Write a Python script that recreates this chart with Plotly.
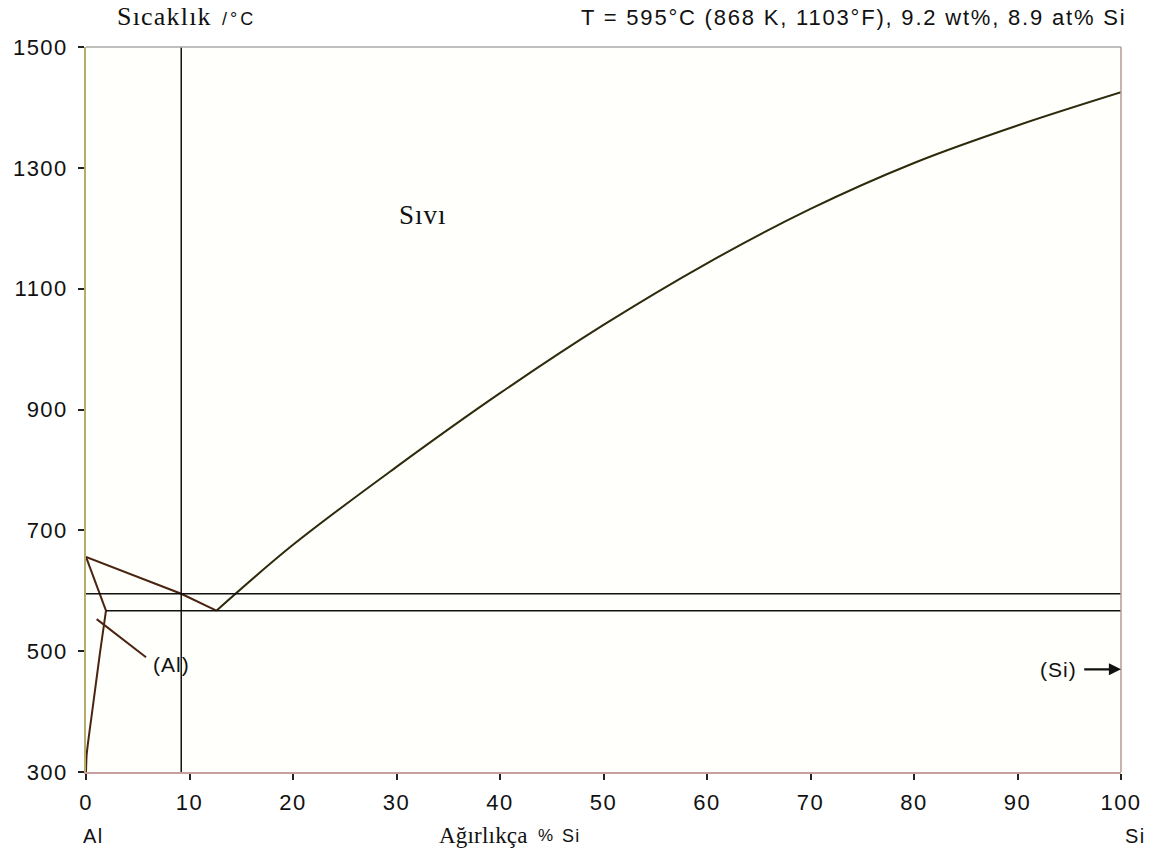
import plotly.graph_objects as go

# ---- data ----
liquidus_x = [12.6, 20, 30, 40, 50, 60, 70, 80, 90, 100]
liquidus_t = [567, 676, 805, 927, 1040, 1142, 1232, 1308, 1370, 1425]

al_liquidus_x = [0.0, 9.2, 12.6]
al_liquidus_t = [656, 595, 567]

solidus_x = [0.0, 1.93]
solidus_t = [656, 567]

solvus_x = [1.93, 1.35, 0.7, 0.07, 0.0]
solvus_t = [567, 497, 413, 330, 300]

leader_x = [1.03, 5.8]
leader_t = [553, 490]

eutectic_t = 567
eutectic_x = [1.93, 100]
cursor_t = 595
cursor_x = 9.2

x_ticks = [0, 10, 20, 30, 40, 50, 60, 70, 80, 90, 100]
y_ticks = [300, 500, 700, 900, 1100, 1300, 1500]

SANS = "Liberation Sans, Arial, sans-serif"
SERIF = "Liberation Serif, Times New Roman, serif"

# plot area in page pixels (reference)
PX0, PX1, PY0, PY1 = 86, 1121, 47, 772


def px(x):
    return (x - PX0) / (PX1 - PX0)


def py(y):
    return (PY1 - y) / (PY1 - PY0)


def spaced(s, ls):
    return "<span style='letter-spacing:%.1fpx'>%s</span>" % (ls, s)


fig = go.Figure()

curve_brown = "#4a2410"
curve_dark = "#2e2a0c"

fig.add_trace(go.Scatter(x=liquidus_x, y=liquidus_t, mode="lines",
                         line=dict(color=curve_dark, width=2, shape="spline", smoothing=1.0),
                         hoverinfo="skip", showlegend=False))
fig.add_trace(go.Scatter(x=al_liquidus_x, y=al_liquidus_t, mode="lines",
                         line=dict(color=curve_brown, width=2),
                         hoverinfo="skip", showlegend=False))
fig.add_trace(go.Scatter(x=solidus_x, y=solidus_t, mode="lines",
                         line=dict(color=curve_brown, width=2),
                         hoverinfo="skip", showlegend=False))
fig.add_trace(go.Scatter(x=solvus_x, y=solvus_t, mode="lines",
                         line=dict(color=curve_brown, width=2, shape="spline", smoothing=0.6),
                         hoverinfo="skip", showlegend=False))
fig.add_trace(go.Scatter(x=leader_x, y=leader_t, mode="lines",
                         line=dict(color=curve_brown, width=2),
                         hoverinfo="skip", showlegend=False))
fig.add_trace(go.Scatter(x=eutectic_x, y=[eutectic_t, eutectic_t], mode="lines",
                         line=dict(color="#111111", width=1.5),
                         hoverinfo="skip", showlegend=False))
fig.add_trace(go.Scatter(x=[0, 100], y=[cursor_t, cursor_t], mode="lines",
                         line=dict(color="#111111", width=1.5),
                         hoverinfo="skip", showlegend=False))
fig.add_trace(go.Scatter(x=[cursor_x, cursor_x], y=[300, 1500], mode="lines",
                         line=dict(color="#111111", width=1.5),
                         hoverinfo="skip", showlegend=False))

# top and right borders
fig.add_shape(type="line", xref="paper", yref="paper", x0=0, x1=1, y0=1, y1=1,
              line=dict(color="#a8a8a8", width=1.5))
fig.add_shape(type="line", xref="paper", yref="paper", x0=1, x1=1, y0=0, y1=1,
              line=dict(color="#b89a90", width=1.5))


def note(text, x, y, xanchor, family, size, xref="paper", yref="paper"):
    return dict(text=text, x=x, y=y, xref=xref, yref=yref, xanchor=xanchor, yanchor="middle",
                showarrow=False, font=dict(family=family, size=size, color="#111111"))


ann = [
    note(spaced("Sıcaklık", 1.2), px(115), py(17), "left", SERIF, 26),
    note(spaced("/°C", 3.0), px(220), py(19), "left", SANS, 18),
    note(spaced("T = 595°C (868 K, 1103°F), 9.2 wt%, 8.9 at% Si", 1.8), px(1128), py(18), "right", SANS, 22),
    note(spaced("Al", 1.5), px(81), py(836), "left", SANS, 20),
    note(spaced("Ağırlıkça", 0.2), px(437), py(835), "left", SERIF, 23),
    note(spaced("%", 1.0), px(536), py(836), "left", SANS, 17),
    note(spaced("Si", 1.2), px(560), py(836), "left", SANS, 18),
    note(spaced("Si", 1.5), px(1148), py(836), "right", SANS, 20),
    note(spaced("Sıvı", 1.0), 30.0, 1222, "left", SERIF, 27, "x", "y"),
    note(spaced("(Al)", 1.0), 6.3, 478, "left", SANS, 21, "x", "y"),
    note(spaced("(Si)", 1.0), 92.0, 470, "left", SANS, 21, "x", "y"),
    dict(text="", x=100, y=470, ax=96.3, ay=470, xref="x", yref="y", axref="x", ayref="y",
         showarrow=True, arrowhead=2, arrowsize=1.1, arrowwidth=2.2, arrowcolor="#111111"),
]

fig.update_layout(
    width=1158, height=859,
    margin=dict(l=86, r=37, t=47, b=87),
    paper_bgcolor="#ffffff",
    plot_bgcolor="#fffffc",
    annotations=ann,
    xaxis=dict(range=[0, 100], tickvals=x_ticks, ticktext=[spaced(str(v), 1.5) for v in x_ticks],
               showgrid=False, zeroline=False, showline=True, linecolor="#c8a0a0", linewidth=1.5,
               ticks="outside", ticklen=6, tickcolor="#222222", tickwidth=1.5, ticklabelstandoff=4,
               tickfont=dict(family=SANS, size=22, color="#111111"), fixedrange=True),
    yaxis=dict(range=[300, 1500], tickvals=y_ticks, ticktext=[spaced(str(v), 1.5) for v in y_ticks],
               showgrid=False, zeroline=False, showline=True, linecolor="#b5ae6a", linewidth=1.5,
               ticks="outside", ticklen=6, tickcolor="#222222", tickwidth=1.5, ticklabelstandoff=6,
               tickfont=dict(family=SANS, size=22, color="#111111"), fixedrange=True),
)

fig.write_html("out.html", config={"displayModeBar": False},
               post_script="document.body.style.margin='0px';document.body.style.overflow='hidden';")
